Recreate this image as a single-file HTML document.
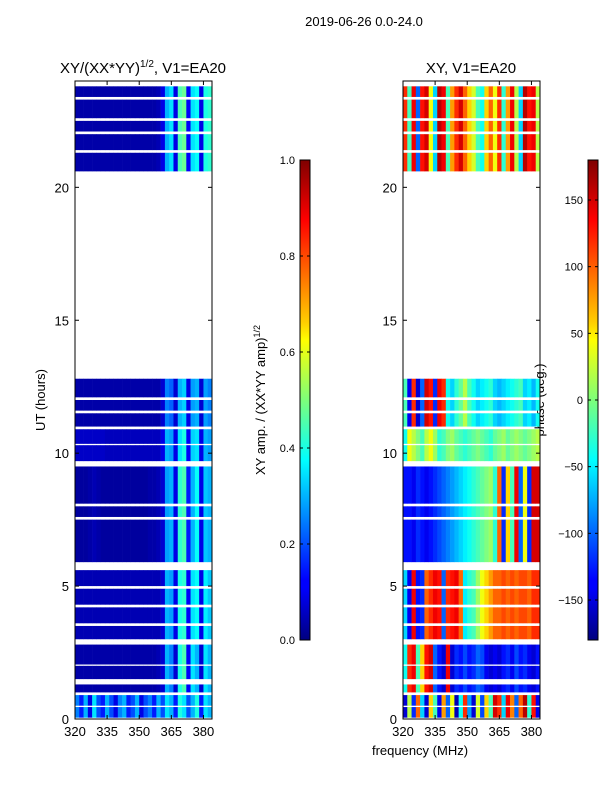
<!DOCTYPE html>
<html><head><meta charset="utf-8"><style>
body{margin:0;background:#fff}
svg{display:block;font-family:"Liberation Sans","DejaVu Sans",sans-serif}
</style></head><body>
<svg id="fig" width="600" height="800" viewBox="0 0 600 800">
<defs>
<linearGradient id="jet" x1="0" y1="1" x2="0" y2="0">
<stop offset="0" stop-color="#00007f"/><stop offset="0.11" stop-color="#0000ff"/>
<stop offset="0.125" stop-color="#0000ff"/><stop offset="0.34" stop-color="#00dcff"/>
<stop offset="0.375" stop-color="#00ffff"/><stop offset="0.5" stop-color="#7dff7a"/>
<stop offset="0.625" stop-color="#ffff00"/><stop offset="0.66" stop-color="#ffd000"/>
<stop offset="0.875" stop-color="#ff0000"/><stop offset="1" stop-color="#7f0000"/>
</linearGradient>
</defs>
<text x="364" y="26" font-size="13" text-anchor="middle">2019-06-26 0.0-24.0</text>
<text x="143" y="73" font-size="15" text-anchor="middle">XY/(XX*YY)<tspan font-size="10" dy="-6">1/2</tspan><tspan dy="6">, V1=EA20</tspan></text>
<text x="471" y="73" font-size="15" text-anchor="middle">XY, V1=EA20</text>
<text transform="translate(45,400) rotate(-90)" font-size="13" text-anchor="middle">UT (hours)</text>
<text transform="translate(265,400) rotate(-90)" font-size="13" text-anchor="middle">XY amp. / (XX*YY amp)<tspan font-size="9" dy="-5">1/2</tspan></text>
<text transform="translate(544,400) rotate(-90)" font-size="13" text-anchor="middle">phase (deg.)</text>
<text x="420" y="755" font-size="13" text-anchor="middle">frequency (MHz)</text>
<g id="p1"></g>
<g id="p2"></g>
<g id="cb"></g>
</svg>
<script>
const freqTicks=[320,335,350,365,380];
const hourTicks=[0,5,10,15,20];
const ampTicks=[0.0,0.2,0.4,0.6,0.8,1.0];
const phaseTicks=[-150,-100,-50,0,50,100,150];
// data rows: [startHour, endHour, group]
const rowStart=[0.05,0.5,1.0,1.5,2.05,3.0,3.6,4.3,5.0,5.9,7.6,8.1,9.7,10.35,11.0,11.6,12.1,20.6,21.4,22.1,22.6,23.4];
const rowEnd=[0.45,0.9,1.3,2.0,2.8,3.5,4.2,4.9,5.6,7.5,8.0,9.5,10.3,10.9,11.5,12.0,12.8,21.3,22.0,22.5,23.3,23.8];
const rowGroup=[0,0,1,1,1,2,2,2,2,3,3,3,4,4,5,5,5,6,6,6,6,6];
// channel centers, 2 MHz wide, 320-384
const channels=[321,323,325,327,329,331,333,335,337,339,341,343,345,347,349,351,353,355,357,359,361,363,365,367,369,371,373,375,377,379,381,383];
const ampA=[0.25,0.15,0.3,0.1,0.35,0.2,0.15,0.3,0.2,0.1,0.25,0.3,0.15,0.2,0.3,0.1,0.2,0.25,0.15,0.3,0.2,0.35,0.3,0.15,0.4,0.35,0.2,0.3,0.4,0.15,0.35,0.3];
const ampB=[0.04,0.04,0.04,0.04,0.04,0.04,0.04,0.04,0.04,0.04,0.04,0.04,0.04,0.04,0.04,0.04,0.04,0.04,0.04,0.05,0.08,0.3,0.25,0.08,0.4,0.45,0.12,0.35,0.3,0.08,0.35,0.3];
const ampC=[0.05,0.05,0.05,0.05,0.05,0.05,0.05,0.05,0.05,0.05,0.05,0.05,0.05,0.05,0.05,0.05,0.05,0.05,0.05,0.05,0.08,0.3,0.28,0.1,0.4,0.42,0.12,0.35,0.38,0.1,0.36,0.32];
const ampD=[0.03,0.03,0.03,0.04,0.05,0.04,0.03,0.03,0.03,0.03,0.03,0.03,0.03,0.03,0.03,0.03,0.03,0.04,0.04,0.05,0.08,0.28,0.3,0.1,0.42,0.45,0.15,0.3,0.38,0.1,0.32,0.3];
const ampE=[0.07,0.07,0.07,0.07,0.07,0.07,0.07,0.06,0.06,0.06,0.06,0.06,0.06,0.06,0.06,0.06,0.06,0.06,0.06,0.06,0.1,0.3,0.28,0.1,0.35,0.4,0.12,0.33,0.35,0.1,0.3,0.28];
const ampF=[0.04,0.04,0.04,0.04,0.04,0.04,0.04,0.04,0.04,0.04,0.04,0.04,0.04,0.04,0.04,0.04,0.04,0.04,0.04,0.04,0.08,0.25,0.22,0.08,0.3,0.33,0.1,0.28,0.3,0.08,0.28,0.25];
const ampG=[0.04,0.04,0.04,0.04,0.04,0.04,0.04,0.04,0.04,0.04,0.04,0.04,0.04,0.04,0.04,0.04,0.04,0.04,0.04,0.05,0.1,0.3,0.35,0.1,0.45,0.48,0.12,0.35,0.38,0.1,0.4,0.42];
const phA=[-150,20,-120,100,-60,-150,60,-20,-140,80,-100,40,-160,-40,120,-80,-150,30,-110,60,-20,150,120,-60,140,90,-100,100,160,-30,130,-140];
const phB=[-40,120,140,-20,60,130,150,-100,-130,-150,140,-150,-120,-130,-110,-130,-120,-100,-110,-140,-150,-140,-150,-130,-120,-140,-110,-130,-120,-140,-150,-130];
const phC=[-60,-140,140,-130,-120,100,120,140,130,-100,120,130,140,100,-50,-30,-20,10,40,60,80,100,100,110,100,110,100,110,110,100,120,120];
const phD=[-130,-130,-140,-120,-130,-140,-130,-120,-110,-100,-90,-80,-70,-60,-50,-40,-30,-20,-10,0,10,-30,100,-120,60,-20,140,-100,40,-120,150,150];
const phE=[-40,40,20,0,-20,20,40,10,-30,-20,0,10,-10,-20,-30,-20,-10,0,-10,-20,-30,-10,0,10,-10,0,10,0,-10,0,10,20];
const phF=[-20,-140,120,-150,-100,150,130,-120,140,120,-40,-60,-30,-10,20,-20,-40,-60,-50,-40,-30,-60,-70,-60,-50,-40,-30,-20,-60,-50,-70,-40];
const phG=[120,-20,140,-100,130,150,40,-60,160,140,-20,80,120,150,100,60,30,-20,-40,60,100,40,120,-30,80,140,20,-60,160,130,140,20];
const ampGroups=[ampA,ampB,ampC,ampD,ampE,ampF,ampG];
const phGroups=[phA,phB,phC,phD,phE,phF,phG];

const NS="http://www.w3.org/2000/svg";
function jet(v){v=Math.max(0,Math.min(1,v));
 const r=Math.max(0,Math.min(1,Math.min(4*v-1.5,-4*v+4.5)));
 const g=Math.max(0,Math.min(1,Math.min(4*v-0.5,-4*v+3.5)));
 const b=Math.max(0,Math.min(1,Math.min(4*v+0.5,-4*v+2.5)));
 return `rgb(${Math.round(r*255)},${Math.round(g*255)},${Math.round(b*255)})`;}
function el(t,a,p){const e=document.createElementNS(NS,t);for(const k in a)e.setAttribute(k,a[k]);p.appendChild(e);return e;}
const Y0=719,Y1=81;
function yS(h){return Y0-h*(Y0-Y1)/24;}
function makeX(x0,x1){return f=>x0+(f-320)*(x1-x0)/64;}

function panel(g,x0,x1,groups,norm,prefix){
 const xS=makeX(x0,x1);
 for(let r=0;r<rowStart.length;r++){
  const vals=groups[rowGroup[r]];
  for(let c=0;c<channels.length;c++){
   const a=xS(channels[c]-1),b=xS(channels[c]+1);
   const y=yS(rowEnd[r]),h=yS(rowStart[r])-y;
   const rc=el('rect',{x:a.toFixed(2),y:y.toFixed(2),width:(b-a+0.3).toFixed(2),height:h.toFixed(2),fill:jet(norm(vals[c]))},g);
   
   
  }
 }
 const fr=el('rect',{x:x0,y:Y1,width:x1-x0,height:Y0-Y1,fill:'none',stroke:'#000','stroke-width':1},g);
 
 
 for(const f of freqTicks){const x=xS(f);
  el('line',{x1:x,x2:x,y1:Y0,y2:Y0-4,stroke:'#000'},g);
  el('line',{x1:x,x2:x,y1:Y1,y2:Y1+4,stroke:'#000'},g);
  const t=el('text',{x:x,y:Y0+17,'font-size':13,'text-anchor':'middle'},g);t.textContent=f;
  
  
 }
 for(const hh of hourTicks){const y=yS(hh);
  el('line',{x1:x0,x2:x0+4,y1:y,y2:y,stroke:'#000'},g);
  el('line',{x1:x1,x2:x1-4,y1:y,y2:y,stroke:'#000'},g);
  const t=el('text',{x:x0-6,y:y+5,'font-size':13,'text-anchor':'end'},g);t.textContent=hh;
  
  
 }
}
panel(document.getElementById('p1'),75,212,ampGroups,v=>v,'amp');
panel(document.getElementById('p2'),403,540,phGroups,v=>(v+180)/360,'phase');

function colorbar(g,x,ticks,vmin,vmax,fmt,name){
 const top=160,bot=640;
 const r=el('rect',{x:x,y:top,width:10,height:bot-top,fill:'url(#jet)',stroke:'#000','stroke-width':1},g);
 
 
 for(const v of ticks){const y=bot-(v-vmin)/(vmax-vmin)*(bot-top);
  el('line',{x1:x,x2:x+3,y1:y,y2:y,stroke:'#000'},g);
  el('line',{x1:x+10,x2:x+7,y1:y,y2:y,stroke:'#000'},g);
  const t=el('text',{x:x-5,y:y+4,'font-size':11,'text-anchor':'end'},g);t.textContent=fmt(v);
  
  
 }
}
const cbg=document.getElementById('cb');
colorbar(cbg,300,ampTicks,0,1,v=>v.toFixed(1),'amp-colorbar');
colorbar(cbg,588,phaseTicks,-180,180,v=>v<0?'\u2212'+(-v):String(v),'phase-colorbar');
</script>
</body></html>
